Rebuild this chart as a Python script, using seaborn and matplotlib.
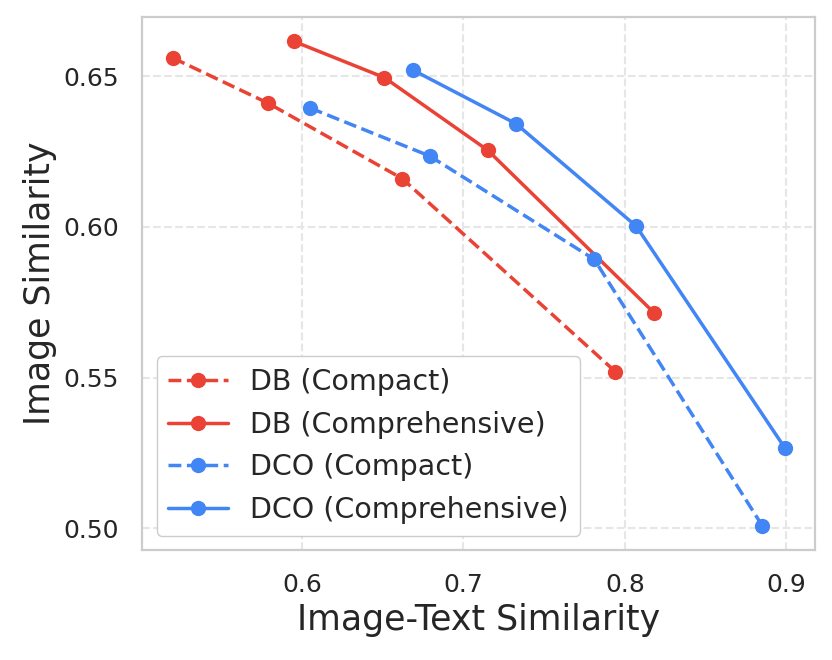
import matplotlib
matplotlib.use("Agg")
import matplotlib.pyplot as plt
import seaborn as sns
import pandas as pd

# data
db_compact_x = [0.520, 0.579, 0.662, 0.794]
db_compact_y = [0.656, 0.641, 0.616, 0.552]
db_comp_x = [0.595, 0.651, 0.715, 0.818]
db_comp_y = [0.6615, 0.6495, 0.6254, 0.5715]
dco_compact_x = [0.605, 0.679, 0.781, 0.885]
dco_compact_y = [0.6394, 0.6235, 0.5892, 0.5009]
dco_comp_x = [0.669, 0.7325, 0.807, 0.899]
dco_comp_y = [0.6519, 0.6342, 0.6002, 0.5267]

labels = ["DB (Compact)", "DB (Comprehensive)", "DCO (Compact)", "DCO (Comprehensive)"]
red = "#EA4335"
blue = "#4285F4"

series = [
    (db_compact_x, db_compact_y, labels[0], red, "--"),
    (db_comp_x, db_comp_y, labels[1], red, "-"),
    (dco_compact_x, dco_compact_y, labels[2], blue, "--"),
    (dco_comp_x, dco_comp_y, labels[3], blue, "-"),
]

sns.set_theme(style="whitegrid")
plt.rcParams["font.family"] = ["DejaVu Sans"]

fig, ax = plt.subplots(figsize=(8.32, 6.6), dpi=100)
fig.subplots_adjust(left=0.171, right=0.98, top=0.974, bottom=0.167)

for xs, ys, lab, col, ls in series:
    df = pd.DataFrame({"x": xs, "y": ys})
    sns.lineplot(data=df, x="x", y="y", ax=ax, label=lab, color=col,
                 linestyle=ls, marker="o", markersize=11, linewidth=2.5,
                 markeredgewidth=0)

ax.set_xticks([0.6, 0.7, 0.8, 0.9])
ax.set_yticks([0.50, 0.55, 0.60, 0.65])
ax.grid(True, linestyle="--", color="#e6e6e6", linewidth=1.5)
for sp in ax.spines.values():
    sp.set_color("#cccccc")
    sp.set_linewidth(1.6)

ax.set_xlabel("Image-Text Similarity", fontsize=25)
ax.set_ylabel("Image Similarity", fontsize=25)
ax.tick_params(axis="both", labelsize=18, pad=11)

leg = ax.legend(loc="lower left", fontsize=20.5, frameon=True, framealpha=1,
                edgecolor="#cccccc", labelspacing=0.52, handlelength=2.1)

plt.savefig("out.png", dpi=100)
